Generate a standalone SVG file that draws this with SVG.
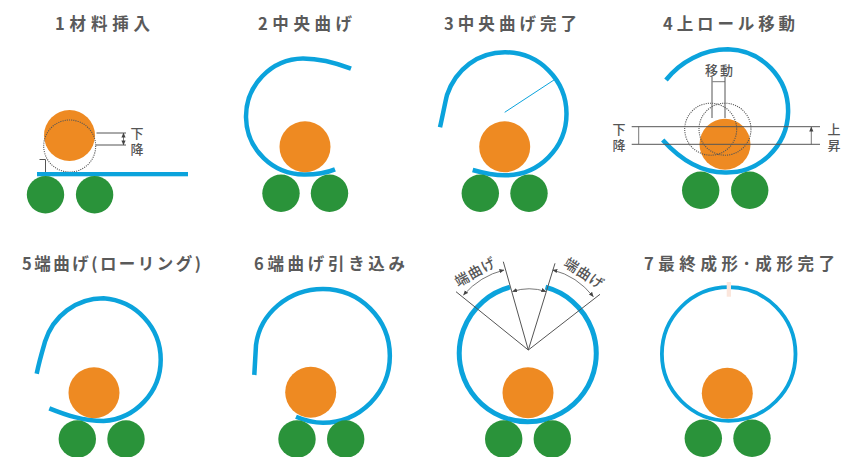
<svg xmlns="http://www.w3.org/2000/svg" width="849" height="457" viewBox="0 0 849 457">
<style>
.t{font-family:"Noto Sans CJK JP","Noto Sans",sans-serif;font-size:16.5px;font-weight:700;fill:#5a5a5a}
.s{font-family:"Noto Sans CJK JP","Noto Sans",sans-serif;font-size:13px;font-weight:500;fill:#555;text-anchor:middle}
.v{font-family:"Noto Sans CJK JP","Noto Sans",sans-serif;font-size:13px;font-weight:500;fill:#555;writing-mode:vertical-rl;letter-spacing:3px}
.o{fill:#ee8a22}.g{fill:#2a933a}
.b{fill:none;stroke:#0ba3dc;stroke-width:4.5}
.d{fill:none;stroke:#555;stroke-width:1.1;stroke-dasharray:1.1 1.1}
.l{fill:none;stroke:#555;stroke-width:1}
.a{fill:none;stroke:#555;stroke-width:.8;marker-start:url(#h);marker-end:url(#h)}
.e{fill:none;stroke:#555;stroke-width:.8;marker-end:url(#h)}
</style>
<defs><marker id="h" viewBox="0 0 6 6" refX="5.5" refY="3" markerWidth="5" markerHeight="5" markerUnits="userSpaceOnUse" orient="auto-start-reverse"><path d="M0 .5L6 3L0 5.500z" fill="#444"/></marker></defs>
<g id="step1">
<text class="t" x="55" y="30" textLength="95">1材料挿入</text>
<circle class="o" cx="69.500" cy="135.500" r="25.500"/>
<circle class="d" cx="69.700" cy="146" r="26"/>
<rect x="37" y="172" width="151" height="4.300" fill="#0ba3dc"/>
<circle class="g" cx="45.500" cy="194.700" r="18.700"/><circle class="g" cx="94.600" cy="194.700" r="18.700"/>
<path class="l" d="M96.500 133H126M96 145H126M39.500 159.500H45.500V172"/>
<path class="a" d="M123.500 133V145"/>
<text class="v" x="137" y="126.500">下降</text>
</g>
<g id="step2">
<text class="t" x="258" y="30" textLength="94">2中央曲げ</text>
<path class="b" d="M351 68.700C335 62.500 318 58.500 303 58.500A58 58 0 0 0 305 174.500C316 174.500 326 173 335 169.300"/>
<circle class="o" cx="305" cy="146.700" r="25.500"/>
<circle class="g" cx="281" cy="193.300" r="18.700"/><circle class="g" cx="329.500" cy="193.300" r="18.700"/>
</g>
<g id="step3">
<text class="t" x="444" y="30" textLength="133">3中央曲げ完了</text>
<path class="b" d="M440 127.300C443 114 445 103 447 95C456 69 478 52.300 505 52.300A61.500 61.500 0 0 1 505 175.300C493 175.300 483 173 472.700 170"/>
<path d="M504.700 112.300L555 79.300" fill="none" stroke="#0ba3dc"/>
<circle class="o" cx="504.700" cy="146.700" r="25.500"/>
<circle class="g" cx="480.300" cy="193.300" r="18.700"/><circle class="g" cx="529" cy="193.300" r="18.700"/>
</g>
<g id="step4">
<text class="t" x="663" y="30" textLength="132">4上ロール移動</text>
<path class="b" d="M666 80C680 62 703 49.300 728 49.300A61.500 61.500 0 0 1 725 172.500C700 172.500 679 158 662.700 140"/>
<circle class="o" cx="725" cy="144.300" r="25.500"/>
<circle class="d" cx="710.700" cy="129.200" r="26"/><circle class="d" cx="725" cy="129.200" r="26"/>
<circle class="g" cx="700.700" cy="190.300" r="18.700"/><circle class="g" cx="749.700" cy="190.300" r="18.700"/>
<path class="l" d="M631.700 126.700H820M631.700 144.300H820M712 76.700V118M725 76.700V118"/>
<path class="e" d="M725 81.700H712.500M638.700 126.700V144M811.300 144.300V127"/>
<text class="s" x="720" y="75" style="letter-spacing:2px">移動</text>
<text class="v" x="619" y="122.500">下降</text>
<text class="v" x="834" y="122.500">上昇</text>
</g>
<g id="step5">
<text class="t" x="22" y="270" textLength="179">5端曲げ(ローリング)</text>
<path class="b" d="M36.700 373.700C39 362 42 352 45 341.700C53 316 76 298.300 103.500 298.300A61.500 61.500 0 0 1 103.500 421C83 421 66 415 49.300 408.300"/>
<circle class="o" cx="94" cy="392.700" r="25.500"/>
<circle class="g" cx="77.300" cy="439" r="18.700"/><circle class="g" cx="126" cy="439" r="18.700"/>
</g>
<g id="step6">
<text class="t" x="254" y="270" textLength="151">6端曲げ引き込み</text>
<path class="b" d="M254.300 375L256 345C260 314 288 289 323 289A66.800 66.800 0 0 1 323 422.700C314 422.700 305 420.500 296 416.700"/>
<circle class="o" cx="310.700" cy="392.300" r="25.500"/>
<circle class="g" cx="297" cy="439" r="18.700"/><circle class="g" cx="345.700" cy="439" r="18.700"/>
</g>
<g id="step7">
<path class="b" d="M510 287.200A68.500 68.500 0 1 0 545.500 287.200" style="stroke-width:5"/>
<circle class="o" cx="528" cy="392.700" r="25.500"/>
<circle class="g" cx="503.700" cy="439" r="18.700"/><circle class="g" cx="552.300" cy="439" r="18.700"/>
<path class="l" d="M503.300 261.700L528.300 350L555 263.300M456 291.700L528.300 350L600 294.300"/>
<path class="a" d="M512.500 291.500Q529 286 546 291.500"/>
<path class="a" d="M463.500 295Q480 276 504 270"/>
<path class="a" d="M552.700 270Q577 276 593.300 296.700"/>
<text class="s" transform="translate(475.700 272.300) rotate(-29)" y="4.500" style="font-size:14px;letter-spacing:1px">端曲げ</text>
<text class="s" transform="translate(584 274) rotate(33)" y="4.500" style="font-size:14px;letter-spacing:1px">端曲げ</text>
</g>
<g id="step8">
<text class="t" x="644" y="270" textLength="191">7最終成形･成形完了</text>
<circle cx="728.700" cy="354" r="66.800" fill="none" stroke="#0ba3dc" stroke-width="3.800"/>
<rect x="726.700" y="282" width="4.300" height="14.700" fill="#fbe6dc"/>
<circle class="o" cx="727.300" cy="393.300" r="25.500"/>
<circle class="g" cx="703.300" cy="438.300" r="18.700"/><circle class="g" cx="752" cy="438.300" r="18.700"/>
</g>
</svg>
